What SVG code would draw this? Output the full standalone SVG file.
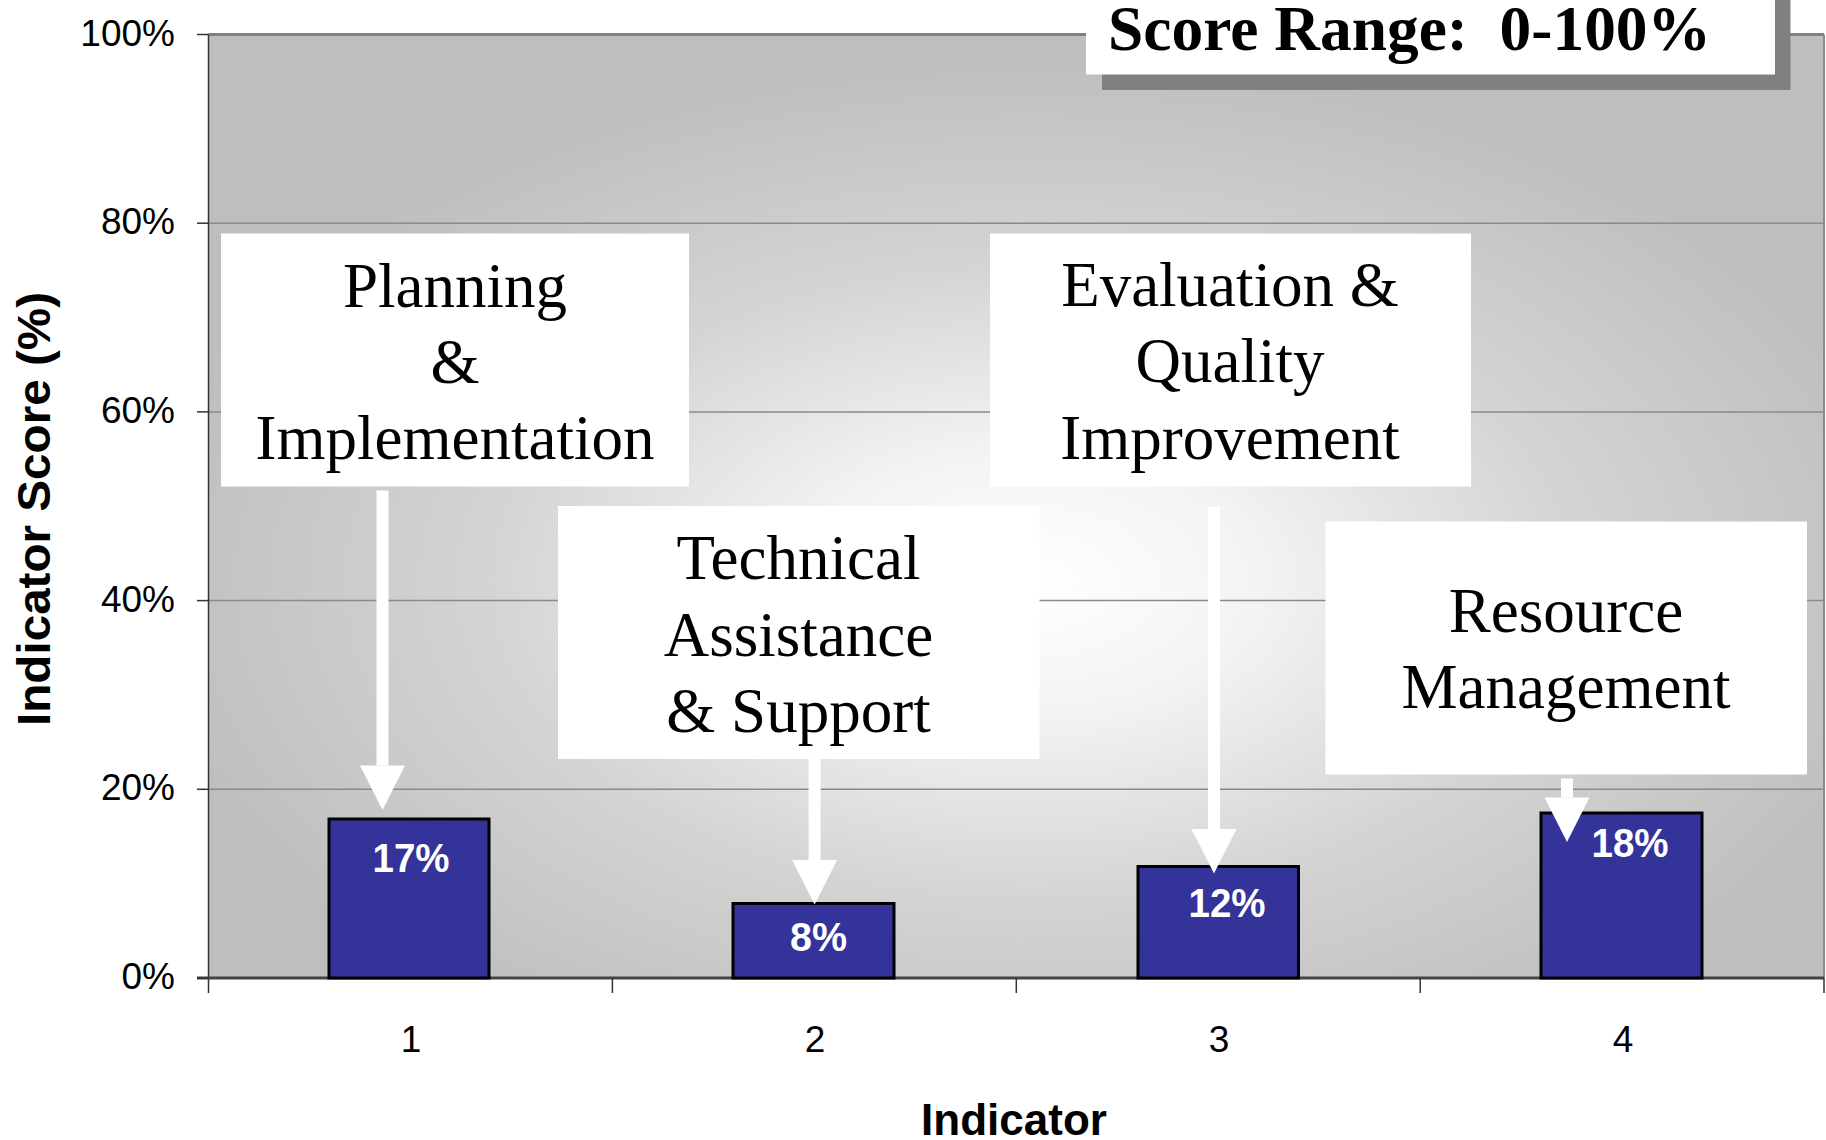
<svg xmlns="http://www.w3.org/2000/svg" width="1826" height="1140" viewBox="0 0 1826 1140">
<defs>
<radialGradient id="bgGrad" gradientUnits="objectBoundingBox" cx="0.51" cy="0.58" r="0.56">
<stop offset="0" stop-color="#ffffff"/>
<stop offset="0.25" stop-color="#f3f3f3"/>
<stop offset="0.6" stop-color="#d4d4d4"/>
<stop offset="1" stop-color="#bebebe"/>
</radialGradient>
<marker id="head" markerUnits="userSpaceOnUse" markerWidth="46" markerHeight="46" viewBox="0 -23 45 46" refX="0" refY="0" orient="auto">
<path d="M0,-22.5 L44.5,0 L0,22.5 Z" fill="#ffffff"/>
</marker>
<style>
.tick{font-family:"Liberation Sans",Arial,sans-serif;font-size:37px;fill:#000}
.title{font-family:"Liberation Sans",Arial,sans-serif;font-weight:bold;fill:#000}
.grid{stroke:#8a8a8a;stroke-width:1.5;fill:none}
.axis{stroke:#333;fill:none}
.bar{fill:#333399;stroke:#000;stroke-width:3}
.val{font-family:"Liberation Sans",Arial,sans-serif;font-weight:bold;font-size:41px;fill:#fff;text-anchor:middle}
.box{fill:#ffffff}
.lbl{font-family:"Liberation Serif","Times New Roman",serif;font-size:63px;fill:#000;text-anchor:middle}
.arrow{stroke:#ffffff;stroke-width:12;fill:none}
</style>
</defs>
<g id="plot-area">
<rect x="208.5" y="34.5" width="1615.5" height="943.5" fill="url(#bgGrad)"/>
<line class="grid" x1="208.5" y1="223.2" x2="1824" y2="223.2"/>
<line class="grid" x1="208.5" y1="411.9" x2="1824" y2="411.9"/>
<line class="grid" x1="208.5" y1="600.6" x2="1824" y2="600.6"/>
<line class="grid" x1="208.5" y1="789.3" x2="1824" y2="789.3"/>
<line x1="208.5" y1="34.5" x2="1824" y2="34.5" stroke="#808080" stroke-width="3"/>
<line x1="1824" y1="34.5" x2="1824" y2="978" stroke="#8a8a8a" stroke-width="2"/>
<line class="axis" x1="208.5" y1="34.5" x2="208.5" y2="993" stroke-width="1.5"/>
<line x1="197" y1="978" x2="1824" y2="978" stroke="#444" stroke-width="3"/>
<g class="axis" stroke-width="1.5">
<line x1="197" y1="34.5" x2="208.5" y2="34.5"/>
<line x1="197" y1="223.2" x2="208.5" y2="223.2"/>
<line x1="197" y1="411.9" x2="208.5" y2="411.9"/>
<line x1="197" y1="600.6" x2="208.5" y2="600.6"/>
<line x1="197" y1="789.3" x2="208.5" y2="789.3"/>
<line x1="197" y1="978" x2="208.5" y2="978"/>
<line x1="612.4" y1="978" x2="612.4" y2="993"/>
<line x1="1016.3" y1="978" x2="1016.3" y2="993"/>
<line x1="1420.2" y1="978" x2="1420.2" y2="993"/>
<line x1="1824" y1="978" x2="1824" y2="993"/>
</g>
</g>
<g id="axis-labels">
<g class="tick" text-anchor="end">
<text x="175" y="45.5">100%</text>
<text x="175" y="234">80%</text>
<text x="175" y="423">60%</text>
<text x="175" y="611.5">40%</text>
<text x="175" y="800">20%</text>
<text x="175" y="989">0%</text>
</g>
<g class="tick" text-anchor="middle">
<text x="411" y="1051.5">1</text>
<text x="815" y="1051.5">2</text>
<text x="1219" y="1051.5">3</text>
<text x="1623" y="1051.5">4</text>
</g>
<text class="title" font-size="44" x="1014" y="1135" text-anchor="middle">Indicator</text>
<text class="title" font-size="47" text-anchor="middle" transform="translate(50,509) rotate(-90)" textLength="434" lengthAdjust="spacingAndGlyphs">Indicator Score (%)</text>
</g>
<g id="bars">
<g id="bar-1"><rect class="bar" x="329" y="819" width="160" height="159"/><text class="val" x="411" y="872" textLength="77" lengthAdjust="spacingAndGlyphs">17%</text></g>
<g id="bar-2"><rect class="bar" x="733" y="903.5" width="161" height="74.5"/><text class="val" x="818.5" y="951" textLength="57" lengthAdjust="spacingAndGlyphs">8%</text></g>
<g id="bar-3"><rect class="bar" x="1138" y="866.5" width="160.5" height="111.5"/><text class="val" x="1227" y="917" textLength="77" lengthAdjust="spacingAndGlyphs">12%</text></g>
<g id="bar-4"><rect class="bar" x="1541" y="813" width="161" height="165"/><text class="val" x="1630" y="857" textLength="77" lengthAdjust="spacingAndGlyphs">18%</text></g>
</g>
<g id="connectors">
<line class="arrow" x1="382.5" y1="490.5" x2="382.5" y2="765.5" marker-end="url(#head)"/>
<line class="arrow" x1="814.6" y1="759" x2="814.6" y2="860" marker-end="url(#head)"/>
<line class="arrow" x1="1214" y1="507" x2="1214" y2="829" marker-end="url(#head)"/>
<line class="arrow" x1="1567" y1="778.5" x2="1567" y2="797.5" marker-end="url(#head)"/>
</g>
<g id="box-planning">
<rect class="box" x="221" y="233.5" width="468" height="253"/>
<text class="lbl" x="455" y="307">Planning</text>
<text class="lbl" x="455" y="383">&amp;</text>
<text class="lbl" x="455" y="459">Implementation</text>
</g>
<g id="box-technical">
<rect class="box" x="558" y="506" width="481.5" height="253"/>
<text class="lbl" x="798.5" y="579">Technical</text>
<text class="lbl" x="798.5" y="655.5">Assistance</text>
<text class="lbl" x="798.5" y="732">&amp; Support</text>
</g>
<g id="box-evaluation">
<rect class="box" x="990" y="233.5" width="481" height="253"/>
<text class="lbl" x="1230" y="305.5">Evaluation &amp;</text>
<text class="lbl" x="1230" y="382">Quality</text>
<text class="lbl" x="1230" y="458.5">Improvement</text>
</g>
<g id="box-resource">
<rect class="box" x="1325.5" y="521.5" width="481.5" height="253"/>
<text class="lbl" x="1566" y="632">Resource</text>
<text class="lbl" x="1566" y="708">Management</text>
</g>
<g id="score-range">
<rect x="1102" y="-20" width="688.5" height="110" fill="#808080"/>
<rect x="1086" y="-20" width="689" height="94.5" fill="#ffffff"/>
<text x="1108" y="50" font-family="&quot;Liberation Serif&quot;,&quot;Times New Roman&quot;,serif" font-weight="bold" font-size="63" xml:space="preserve" textLength="603" lengthAdjust="spacingAndGlyphs">Score Range:  0-100%</text>
</g>
</svg>
